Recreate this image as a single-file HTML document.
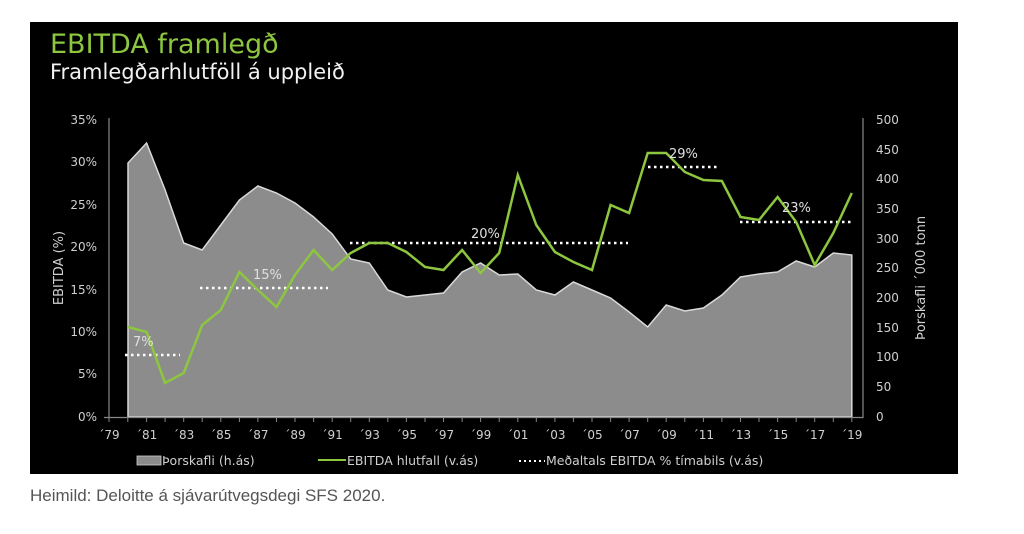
<!DOCTYPE html>
<html><head><meta charset="utf-8"><style>
body{margin:0;background:#fff;width:1024px;height:534px;overflow:hidden;font-family:"DejaVu Sans","Liberation Sans",sans-serif}
</style></head><body>
<svg width="1024" height="534" xmlns="http://www.w3.org/2000/svg" style="position:absolute;left:0;top:0">
<rect x="30" y="22" width="928" height="452" fill="#000"/>
<text x="50" y="53" fill="#8dc63f" font-size="27" font-family="DejaVu Sans,sans-serif">EBITDA framlegð</text>
<text x="50" y="79" fill="#f2f2f2" font-size="21" font-family="DejaVu Sans,sans-serif">Framlegðarhlutföll á uppleið</text>
<polygon fill="#8c8c8c" stroke="#d9d9d9" stroke-width="1.5" points="128,417 128,163 146.6,143 165.1,190 183.7,243 202.2,250 220.8,225 239.4,200 257.9,186 276.5,193 295,203 313.6,217 332.2,234 350.7,259 369.3,263 387.8,290 406.4,297 425,295 443.5,293 462.1,272 480.6,263 499.2,275 517.8,274 536.3,290 554.9,295 573.4,282 592,290 610.6,298 629.1,312 647.7,327 666.2,305 684.8,311 703.4,308 721.9,295 740.5,277 759,274 777.6,272 796.2,261 814.7,267 833.3,253 851.8,255 851.8,417"/>
<g stroke="#fff" stroke-width="2.5" stroke-dasharray="2.5,3.5">
<line x1="125" y1="355" x2="180" y2="355"/>
<line x1="200" y1="288" x2="328" y2="288"/>
<line x1="350" y1="243" x2="628" y2="243"/>
<line x1="648" y1="167" x2="720" y2="167"/>
<line x1="740" y1="222" x2="853" y2="222"/>
</g>
<polyline fill="none" stroke="#8dc63f" stroke-width="2.5" points="128,327 146.6,332 165.1,383 183.7,373 202.2,325 220.8,310 239.4,272 257.9,290 276.5,307 295,275 313.6,250 332.2,270 350.7,253 369.3,243 387.8,243 406.4,252 425,267 443.5,270 462.1,250 480.6,273 499.2,253 517.8,175 536.3,225 554.9,252 573.4,262 592,270 610.6,205 629.1,213 647.7,153 666.2,153 684.8,172 703.4,180 721.9,181 740.5,217 759,220 777.6,197 796.2,222 814.7,265 833.3,233 851.8,193"/>
<g fill="#e0e0e0" font-size="13">
<text x="133" y="346">7%</text><text x="253" y="279">15%</text><text x="471" y="238">20%</text><text x="669" y="158">29%</text><text x="782" y="212">23%</text>
</g>
<g stroke="#888" stroke-width="1.2">
<line x1="109" y1="118" x2="109" y2="418"/>
<line x1="863" y1="118" x2="863" y2="418"/>
<line x1="104" y1="417.5" x2="863" y2="417.5"/>
</g>
<g stroke="#888" stroke-width="1">
<line x1="109" y1="417" x2="109" y2="422"/><line x1="127.8" y1="417" x2="127.8" y2="422"/><line x1="146.6" y1="417" x2="146.6" y2="422"/><line x1="165.1" y1="417" x2="165.1" y2="422"/><line x1="183.7" y1="417" x2="183.7" y2="422"/><line x1="202.2" y1="417" x2="202.2" y2="422"/><line x1="220.8" y1="417" x2="220.8" y2="422"/><line x1="239.4" y1="417" x2="239.4" y2="422"/><line x1="257.9" y1="417" x2="257.9" y2="422"/><line x1="276.5" y1="417" x2="276.5" y2="422"/><line x1="295" y1="417" x2="295" y2="422"/><line x1="313.6" y1="417" x2="313.6" y2="422"/><line x1="332.2" y1="417" x2="332.2" y2="422"/><line x1="350.7" y1="417" x2="350.7" y2="422"/><line x1="369.3" y1="417" x2="369.3" y2="422"/><line x1="387.8" y1="417" x2="387.8" y2="422"/><line x1="406.4" y1="417" x2="406.4" y2="422"/><line x1="425" y1="417" x2="425" y2="422"/><line x1="443.5" y1="417" x2="443.5" y2="422"/><line x1="462.1" y1="417" x2="462.1" y2="422"/><line x1="480.6" y1="417" x2="480.6" y2="422"/><line x1="499.2" y1="417" x2="499.2" y2="422"/><line x1="517.8" y1="417" x2="517.8" y2="422"/><line x1="536.3" y1="417" x2="536.3" y2="422"/><line x1="554.9" y1="417" x2="554.9" y2="422"/><line x1="573.4" y1="417" x2="573.4" y2="422"/><line x1="592" y1="417" x2="592" y2="422"/><line x1="610.6" y1="417" x2="610.6" y2="422"/><line x1="629.1" y1="417" x2="629.1" y2="422"/><line x1="647.7" y1="417" x2="647.7" y2="422"/><line x1="666.2" y1="417" x2="666.2" y2="422"/><line x1="684.8" y1="417" x2="684.8" y2="422"/><line x1="703.4" y1="417" x2="703.4" y2="422"/><line x1="721.9" y1="417" x2="721.9" y2="422"/><line x1="740.5" y1="417" x2="740.5" y2="422"/><line x1="759" y1="417" x2="759" y2="422"/><line x1="777.6" y1="417" x2="777.6" y2="422"/><line x1="796.2" y1="417" x2="796.2" y2="422"/><line x1="814.7" y1="417" x2="814.7" y2="422"/><line x1="833.3" y1="417" x2="833.3" y2="422"/><line x1="851.8" y1="417" x2="851.8" y2="422"/>
</g>
<g fill="#d0d0d0" font-size="12" text-anchor="end">
<text x="97" y="124">35%</text><text x="97" y="166">30%</text><text x="97" y="209">25%</text><text x="97" y="251">20%</text><text x="97" y="294">15%</text><text x="97" y="336">10%</text><text x="97" y="378">5%</text><text x="97" y="421">0%</text>
</g>
<g fill="#d0d0d0" font-size="12">
<text x="876" y="124">500</text><text x="876" y="154">450</text><text x="876" y="183">400</text><text x="876" y="213">350</text><text x="876" y="243">300</text><text x="876" y="272">250</text><text x="876" y="302">200</text><text x="876" y="332">150</text><text x="876" y="361">100</text><text x="876" y="391">50</text><text x="876" y="421">0</text>
</g>
<text transform="translate(63,268) rotate(-90)" fill="#d0d0d0" font-size="13" text-anchor="middle">EBITDA (%)</text>
<text transform="translate(925,278) rotate(-90)" fill="#d0d0d0" font-size="13" text-anchor="middle">Þorskafli ´000 tonn</text>
<g fill="#d0d0d0" font-size="12" text-anchor="middle">
<text x="109" y="439">´79</text><text x="146.6" y="439">´81</text><text x="183.7" y="439">´83</text><text x="220.8" y="439">´85</text><text x="257.9" y="439">´87</text><text x="295" y="439">´89</text><text x="332.2" y="439">´91</text><text x="369.3" y="439">´93</text><text x="406.4" y="439">´95</text><text x="443.5" y="439">´97</text><text x="480.6" y="439">´99</text><text x="517.8" y="439">´01</text><text x="554.9" y="439">´03</text><text x="592" y="439">´05</text><text x="629.1" y="439">´07</text><text x="666.2" y="439">´09</text><text x="703.4" y="439">´11</text><text x="740.5" y="439">´13</text><text x="777.6" y="439">´15</text><text x="814.7" y="439">´17</text><text x="851.8" y="439">´19</text>
</g>
<rect x="137" y="456" width="24" height="9" fill="#8c8c8c" stroke="#ccc" stroke-width="0.8"/>
<text x="162" y="465" fill="#d0d0d0" font-size="12.5">Þorskafli (h.ás)</text>
<line x1="318" y1="460" x2="346" y2="460" stroke="#8dc63f" stroke-width="2"/>
<text x="347" y="465" fill="#d0d0d0" font-size="12.5">EBITDA hlutfall (v.ás)</text>
<line x1="519" y1="461" x2="545" y2="461" stroke="#fff" stroke-width="2" stroke-dasharray="2,3"/>
<text x="546" y="465" fill="#d0d0d0" font-size="12.5">Meðaltals EBITDA % tímabils (v.ás)</text>
<text x="30" y="501" fill="#555" font-size="17" font-family="Liberation Sans Narrow,Liberation Sans,sans-serif">Heimild: Deloitte á sjávarútvegsdegi SFS 2020.</text>
</svg>
</body></html>
